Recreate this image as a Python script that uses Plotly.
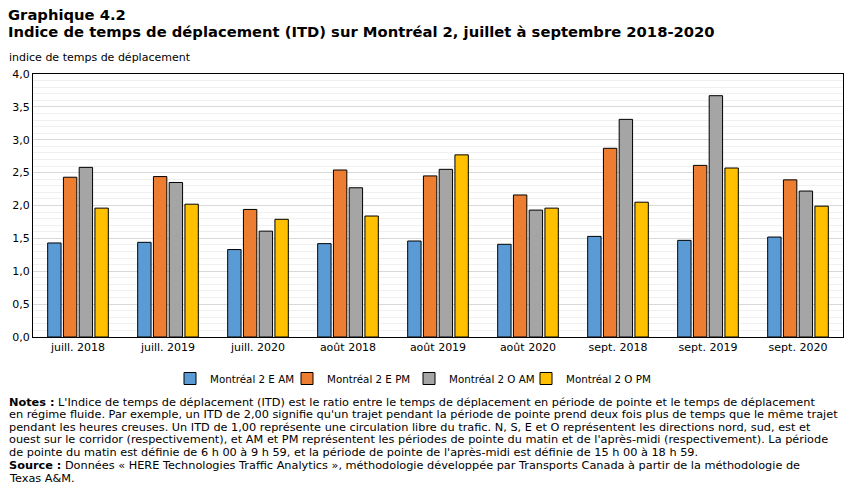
import plotly.graph_objects as go

categories = ["juill. 2018", "juill. 2019", "juill. 2020", "août 2018", "août 2019",
              "août 2020", "sept. 2018", "sept. 2019", "sept. 2020"]
series_names = ["Montréal 2 E AM", "Montréal 2 E PM", "Montréal 2 O AM", "Montréal 2 O PM"]
e_am = [1.43, 1.44, 1.33, 1.42, 1.46, 1.41, 1.53, 1.47, 1.52]
e_pm = [2.43, 2.44, 1.94, 2.54, 2.45, 2.16, 2.87, 2.61, 2.39]
o_am = [2.58, 2.35, 1.61, 2.27, 2.55, 1.93, 3.31, 3.67, 2.22]
o_pm = [1.96, 2.02, 1.79, 1.84, 2.77, 1.96, 2.05, 2.57, 1.99]
colors = ["#5B9BD5", "#ED7D31", "#A5A5A5", "#FFC000"]
y_ticks = [0, 0.5, 1.0, 1.5, 2.0, 2.5, 3.0, 3.5, 4.0]

title_lines = ["Graphique 4.2",
               "Indice de temps de déplacement (ITD) sur Montréal 2, juillet à septembre 2018-2020"]
y_title = "indice de temps de déplacement"
note_lines = [
    "<b>Notes :</b> L'Indice de temps de déplacement (ITD) est le ratio entre le temps de déplacement en période de pointe et le temps de déplacement",
    "en régime fluide. Par exemple, un ITD de 2,00 signifie qu'un trajet pendant la période de pointe prend deux fois plus de temps que le même trajet",
    "pendant les heures creuses. Un ITD de 1,00 représente une circulation libre du trafic. N, S, E et O représentent les directions nord, sud, est et",
    "ouest sur le corridor (respectivement), et AM et PM représentent les périodes de pointe du matin et de l'après-midi (respectivement). La période",
    "de pointe du matin est définie de 6 h 00 à 9 h 59, et la période de pointe de l'après-midi est définie de 15 h 00 à 18 h 59.",
    "<b>Source :</b> Données « HERE Technologies Traffic Analytics », méthodologie développée par Transports Canada à partir de la méthodologie de",
    "Texas A&M.",
]

W, H = 851, 492
L, R, T, B = 33, 8, 74, 155
PW, PH = W - L - R, H - T - B


def px_x(x):
    return (x - L) / PW


def px_y(y):
    return (H - B - y) / PH


legend_ids = ["legend", "legend2", "legend3", "legend4"]
legend_square_px = [194, 311, 433, 550]

fig = go.Figure()
for name, vals, col, lid in zip(series_names, [e_am, e_pm, o_am, o_pm], colors, legend_ids):
    fig.add_trace(go.Bar(x=categories, y=vals, name=name, legend=lid,
                         marker=dict(color=col, line=dict(color="black", width=1))))

layout_legends = {}
for lid, sx in zip(legend_ids, legend_square_px):
    layout_legends[lid] = dict(orientation="h", x=px_x(sx - 24), xanchor="left",
                               y=px_y(364), yanchor="top",
                               font=dict(family="DejaVu Sans", size=10.3), itemwidth=30,
                               bgcolor="rgba(0,0,0,0)")

fig.update_layout(
    width=W, height=H,
    margin=dict(l=L, r=R, t=T, b=B),
    paper_bgcolor="white", plot_bgcolor="white",
    barmode="group", bargap=0.3, bargroupgap=0.15,
    separators=", ",
    font=dict(family="DejaVu Sans", size=11, color="black"),
    showlegend=True,
    **layout_legends,
)
fig.update_xaxes(showline=True, linecolor="black", linewidth=1, mirror=True,
                 ticks="", tickfont=dict(size=11), fixedrange=True)
fig.update_yaxes(range=[0, 4.0], tickvals=y_ticks, tickformat=".1f",
                 showline=True, linecolor="black", linewidth=1, mirror=True,
                 showgrid=True, gridcolor="#d9d9d9", gridwidth=1,
                 minor=dict(dtick=0.1, showgrid=True, gridcolor="#f0f0f0", gridwidth=1),
                 tickfont=dict(size=11), zeroline=False)

for txt, yc in zip(title_lines, [14, 31]):
    fig.add_annotation(xref="paper", yref="paper", x=px_x(6), y=px_y(yc), xanchor="left", yanchor="middle",
                       text="<b>" + txt + "</b>", showarrow=False, align="left",
                       font=dict(family="DejaVu Sans", size=14.75, color="black"))
fig.add_annotation(xref="paper", yref="paper", x=px_x(7), y=px_y(58), xanchor="left", yanchor="middle",
                   text=y_title, showarrow=False, align="left",
                   font=dict(family="DejaVu Sans", size=11))

note_y = [402, 414.5, 427, 439.5, 452, 465, 478]
for txt, yc in zip(note_lines, note_y):
    fig.add_annotation(xref="paper", yref="paper", x=px_x(7), y=px_y(yc), xanchor="left", yanchor="middle",
                       text=txt, showarrow=False, align="left",
                       font=dict(family="DejaVu Sans", size=11.3))

fig.write_html("out.html")
